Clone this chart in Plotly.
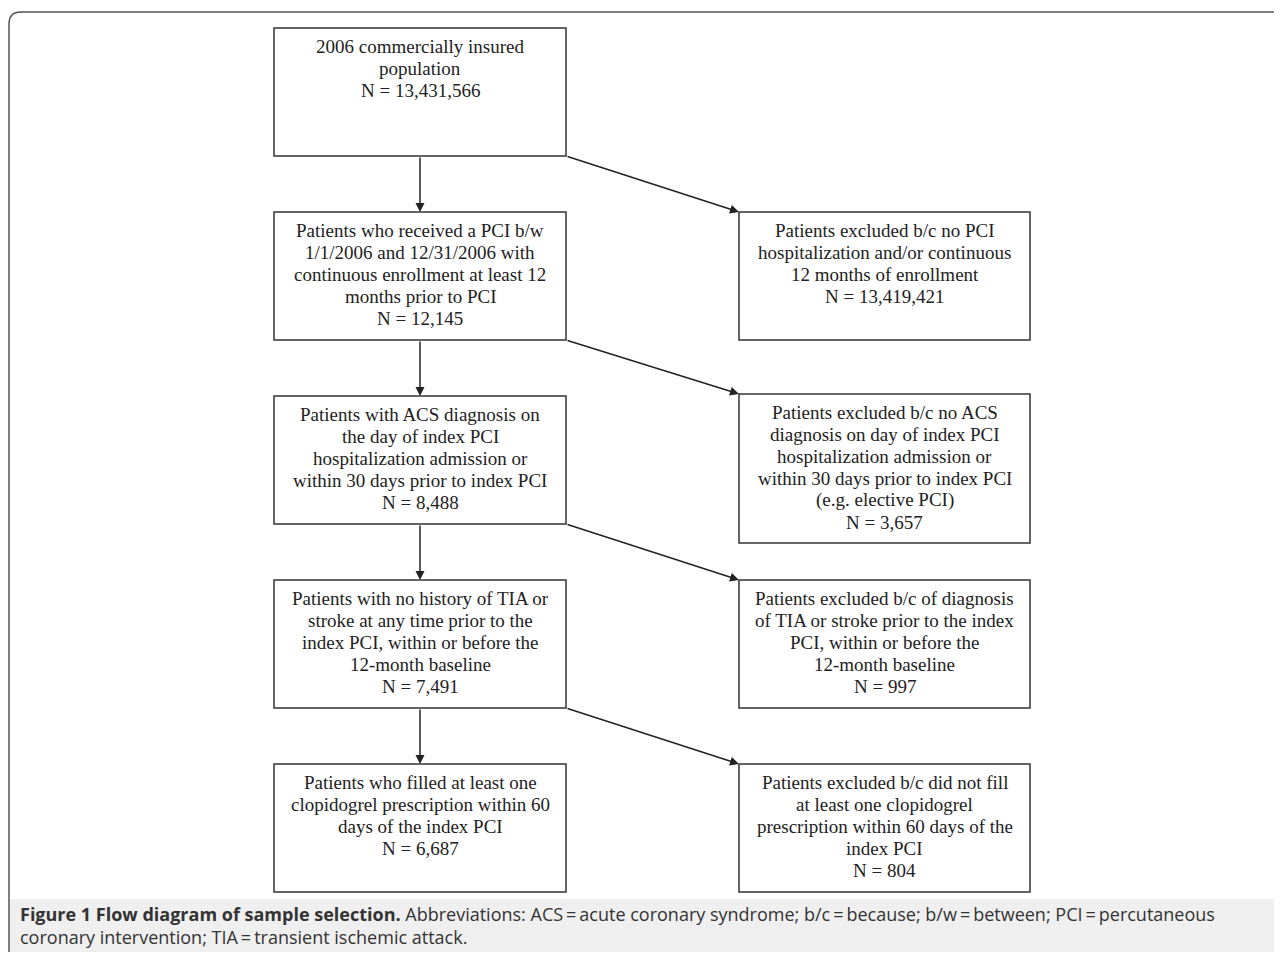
import plotly.graph_objects as go

# flow diagram content
left_texts = [
    ["2006 commercially insured", "population"],
    ["Patients who received a PCI b/w", "1/1/2006 and 12/31/2006 with",
     "continuous enrollment at least 12", "months prior to PCI"],
    ["Patients with ACS diagnosis on", "the day of index PCI",
     "hospitalization admission or", "within 30 days prior to index PCI"],
    ["Patients with no history of TIA or", "stroke at any time prior to the",
     "index PCI, within or before the", "12-month baseline"],
    ["Patients who filled at least one", "clopidogrel prescription within 60",
     "days of the index PCI"],
]
left_counts = ["13,431,566", "12,145", "8,488", "7,491", "6,687"]

right_texts = [
    ["Patients excluded b/c no PCI", "hospitalization and/or continuous",
     "12 months of enrollment"],
    ["Patients excluded b/c no ACS", "diagnosis on day of index PCI",
     "hospitalization admission or", "within 30 days prior to index PCI",
     "(e.g. elective PCI)"],
    ["Patients excluded b/c of diagnosis", "of TIA or stroke prior to the index",
     "PCI, within or before the", "12-month baseline"],
    ["Patients excluded b/c did not fill", "at least one clopidogrel",
     "prescription within 60 days of the", "index PCI"],
]
right_counts = ["13,419,421", "3,657", "997", "804"]

# box geometry (screen pixels, y downwards)
left_x = (274, 566)
right_x = (739, 1030)
left_y = [(28, 156), (212, 340), (396, 524), (580, 708), (764, 892)]
right_y = [(212, 340), (394, 543), (580, 708), (764, 892)]

# page has an 8px body margin
OFF = 8
W, H = 1266, 944
fig = go.Figure()
shapes = []
annotations = []

# outer frame and caption band
shapes.append(dict(type="rect", x0=9, x1=1300, y0=899, y1=1000,
                   fillcolor="#efefef", line=dict(width=0), layer="below"))
shapes.append(dict(type="path",
                   path="M 9 1000 L 9 24 Q 9 12 21 12 L 1300 12",
                   line=dict(color="#555555", width=1.5)))

serif = dict(family="Liberation Serif", size=19, color="#222222")

def add_box(x, y, lines, count):
    shapes.append(dict(type="rect", x0=x[0], x1=x[1], y0=y[0], y1=y[1],
                       line=dict(color="#333333", width=1.5)))
    for j, line in enumerate(lines + ["N = " + count]):
        annotations.append(dict(x=(x[0] + x[1]) / 2, y=y[0] + 18 + 22 * j,
                                xref="x", yref="y", text=line, showarrow=False,
                                xanchor="center", yanchor="middle", font=serif))

def add_arrow(x0, y0, x1, y1):
    annotations.append(dict(x=x1, y=y1, ax=x0, ay=y0, xref="x", yref="y",
                            axref="x", ayref="y", text="", showarrow=True,
                            arrowhead=2, arrowsize=1.2, arrowwidth=1.5,
                            arrowcolor="#222222"))

for i, (t, c) in enumerate(zip(left_texts, left_counts)):
    add_box(left_x, left_y[i], t, c)
for i, (t, c) in enumerate(zip(right_texts, right_counts)):
    add_box(right_x, right_y[i], t, c)

cx = (left_x[0] + left_x[1]) / 2
for i in range(len(left_y) - 1):
    add_arrow(cx, left_y[i][1], cx, left_y[i + 1][0])
    add_arrow(left_x[1], left_y[i][1], right_x[0], right_y[i][0])

# caption
cap_font = dict(family="Open Sans", size=18, color="#333333")
annotations.append(dict(x=18, y=914, xref="x", yref="y", showarrow=False,
                        xanchor="left", yanchor="middle", align="left",
                        text="<b>Figure 1 Flow diagram of sample selection.</b> Abbreviations: ACS\u2009=\u2009acute coronary syndrome; b/c\u2009=\u2009because; b/w\u2009=\u2009between; PCI\u2009=\u2009percutaneous",
                        font=cap_font))
annotations.append(dict(x=18, y=937, xref="x", yref="y", showarrow=False,
                        xanchor="left", yanchor="middle", align="left",
                        text="coronary intervention; TIA\u2009=\u2009transient ischemic attack.",
                        font=cap_font))

fig.update_layout(width=W, height=H, margin=dict(l=0, r=0, t=0, b=0),
                  plot_bgcolor="white", paper_bgcolor="white",
                  shapes=shapes, annotations=annotations, showlegend=False,
                  xaxis=dict(range=[OFF, OFF + W], visible=False, fixedrange=True),
                  yaxis=dict(range=[OFF + H, OFF], visible=False, fixedrange=True))

fig.write_html("out.html")
